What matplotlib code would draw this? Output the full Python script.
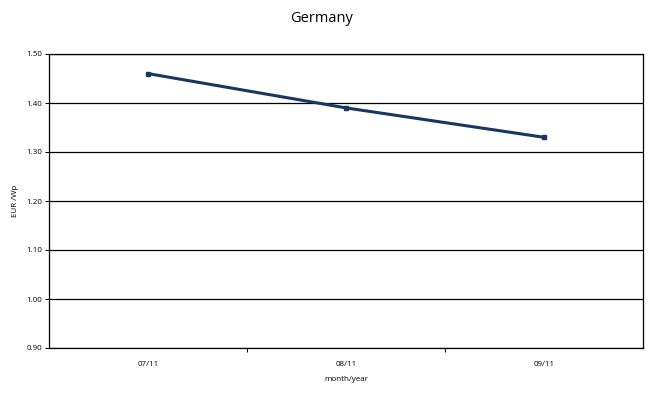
import matplotlib
matplotlib.use("Agg")
import matplotlib.pyplot as plt
import numpy as np

categories = ["07/11", "08/11", "09/11"]
values = [1.46, 1.39, 1.33]
yticks = [0.90, 1.00, 1.10, 1.20, 1.30, 1.40, 1.50]

plt.rcParams['font.family'] = ['Open Sans', 'DejaVu Sans']

fig = plt.figure(figsize=(6.68, 3.94), dpi=100)
ax = fig.add_axes([49/668, 46/394, (643-49)/668, (348-54)/394])

x = np.arange(len(categories))
ax.plot(x, values, color='#17375E', lw=2.2, marker='s', ms=3.5, zorder=3)

ax.set_xlim(-0.5, len(categories) - 0.5)
ax.set_ylim(0.90, 1.50)
ax.set_yticks(yticks)
ax.set_yticklabels([f"{v:.2f}" for v in yticks], fontsize=5.8)
ax.yaxis.grid(True, color='black', lw=0.9)
ax.set_axisbelow(True)

ax.set_xticks(np.arange(0.5, len(categories) - 0.5, 1.0))
ax.set_xticklabels([])
ax.set_xticks(x, minor=True)
ax.set_xticklabels(categories, minor=True, fontsize=5.8)
ax.tick_params(axis='x', which='minor', length=0, pad=9)
ax.tick_params(axis='x', which='major', length=3, width=0.7, direction='out')
ax.tick_params(axis='y', length=3, width=0.7, direction='out', pad=2)

for s in ax.spines.values():
    s.set_linewidth(0.9)
    s.set_color('black')

ax.set_xlabel("month/year", fontsize=5.8, labelpad=6)
ax.set_ylabel("EUR /Wp", fontsize=5.8, labelpad=5)
fig.text(322/668, 1 - 18/394, "Germany", ha='center', va='center', fontsize=10.5)

fig.savefig("out.png", dpi=100)
